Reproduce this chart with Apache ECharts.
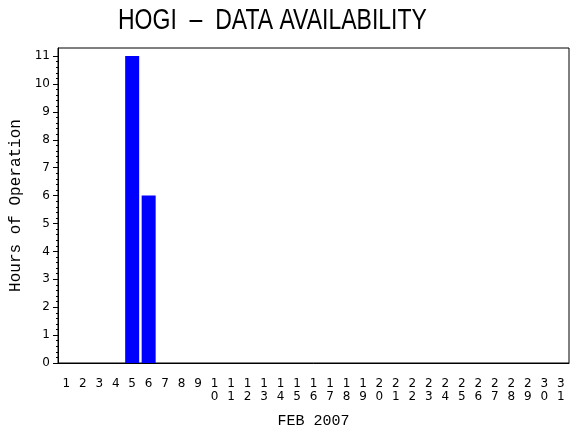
<!DOCTYPE html>
<html>
<head>
<meta charset="utf-8">
<script src="https://cdn.jsdelivr.net/npm/echarts@6/dist/echarts.min.js"></script>
<style>html,body{margin:0;padding:0;background:#fff}#c{width:570px;height:430px}</style>
</head>
<body>
<div id="c"></div>
<script>
var titleText = 'HOGI  \u2013  DATA AVAILABILITY';
var xAxisTitle = 'FEB 2007';
var yAxisTitle = 'Hours of Operation';
var days = ['1','2','3','4','5','6','7','8','9','10','11','12','13','14','15','16','17','18','19','20','21','22','23','24','25','26','27','28','29','30','31'];
var hours = [0,0,0,0,11,6,0,0,0,0,0,0,0,0,0,0,0,0,0,0,0,0,0,0,0,0,0,0,0,0,0];
var yTicks = [0,1,2,3,4,5,6,7,8,9,10,11];
var yMax = 11.29;

var minorTicks = [];
for (var i = 0; i < yTicks.length - 1; i++) {
  for (var k = 1; k < 5; k++) minorTicks.push(+(yTicks[i] + k * 0.2).toFixed(2));
}

var chart = echarts.init(document.getElementById('c'), null, {renderer: 'canvas'});
var font = 'DejaVu Sans';
chart.setOption({
  animation: false,
  backgroundColor: '#fff',
  graphic: [{
    type: 'text', x: 118, y: 7, scaleY: 1.25,
    style: {text: titleText, font: '23px "Liberation Sans"', fill: '#000', textVerticalAlign: 'top', verticalAlign: 'top'}
  }],
  grid: {left: 58, right: 1, top: 48, bottom: 67, show: true, borderColor: '#000', borderWidth: 1,
    backgroundColor: 'transparent', outerBoundsMode: 'none', containLabel: false},
  xAxis: {
    type: 'category', data: days, boundaryGap: true,
    axisLine: {lineStyle: {color: '#000', width: 1}},
    axisTick: {show: false},
    axisLabel: {interval: 0, margin: 14, color: '#000', fontFamily: font, fontSize: 12, lineHeight: 13,
      formatter: function (v) { return v.split('').join('\n'); }},
    name: xAxisTitle, nameLocation: 'middle', nameGap: 51,
    nameTextStyle: {fontFamily: 'Liberation Mono', fontSize: 15, color: '#000'}
  },
  yAxis: [{
    type: 'value', min: 0, max: yMax, position: 'left',
    axisLine: {show: true, lineStyle: {color: '#000', width: 1}},
    axisTick: {show: true, length: 5, lineStyle: {color: '#000'}, customValues: yTicks},
    axisLabel: {margin: 8, color: '#000', fontFamily: font, fontSize: 12, customValues: yTicks},
    splitLine: {show: false},
    name: yAxisTitle, nameLocation: 'middle', nameGap: 33, nameRotate: 90,
    nameTextStyle: {fontFamily: 'Liberation Mono', fontSize: 16, color: '#000'}
  }, {
    type: 'value', min: 0, max: yMax, position: 'left', offset: 0,
    axisLine: {show: false},
    axisTick: {show: true, length: 2, lineStyle: {color: '#000'}, customValues: minorTicks},
    axisLabel: {show: false},
    splitLine: {show: false}
  }],
  series: [{
    type: 'bar', data: hours, barWidth: '85%', yAxisIndex: 0,
    itemStyle: {color: '#0000FF'}
  }]
});
</script>
</body>
</html>
